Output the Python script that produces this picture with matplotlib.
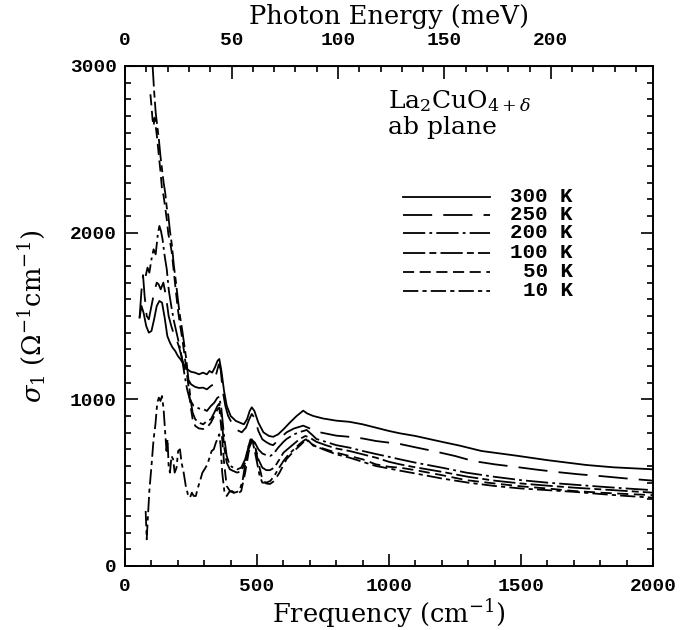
import matplotlib
matplotlib.use("Agg")
import matplotlib.pyplot as plt
from matplotlib.ticker import MultipleLocator
from matplotlib.font_manager import FontProperties

plt.rcParams["lines.scale_dashes"] = False
plt.rcParams["mathtext.fontset"] = "dejavuserif"

# Optical conductivity sigma_1 (Ohm^-1 cm^-1) vs frequency (cm^-1)
nu_300 = [55, 62, 70, 80, 90, 100, 110, 120, 130, 140, 150, 160, 170, 180, 190, 200, 210, 222, 235, 250,
          265, 280, 295, 310, 320, 330, 340, 350, 357, 365, 375, 385, 400, 420, 435, 450, 462, 472, 480, 490,
          505, 524, 545, 561, 580, 600, 624, 650, 675, 690, 713, 750, 800, 850, 900, 950, 1000, 1041, 1100,
          1200, 1268, 1350, 1482, 1600, 1747, 1850, 2000]
s_300 = [1490, 1560, 1520, 1440, 1400, 1410, 1480, 1560, 1590, 1580, 1490, 1380, 1340, 1310, 1290, 1260, 1240,
         1210, 1180, 1165, 1160, 1150, 1160, 1150, 1170, 1160, 1190, 1230, 1242, 1170, 1050, 962, 900, 870, 860,
         850, 880, 930, 952, 930, 860, 802, 780, 775, 790, 820, 860, 900, 932, 915, 900, 885, 872, 865, 850, 830,
         810, 796, 780, 745, 722, 690, 662, 635, 606, 592, 580]

nu_250 = [55, 62, 68, 74, 82, 90, 100, 110, 120, 127, 135, 145, 155, 165, 175, 185, 195, 205, 215, 225, 235,
          250, 265, 280, 295, 310, 325, 335, 345, 355, 362, 370, 380, 390, 410, 425, 442, 458, 470, 480, 490, 505,
          520, 536, 550, 561, 580, 600, 612, 640, 675, 700, 738, 800, 850, 900, 950, 1000, 1041, 1100, 1167, 1250,
          1318, 1400, 1482, 1560, 1646, 1720, 1798, 1900, 2000]
s_250 = [1490, 1650, 1745, 1620, 1500, 1480, 1560, 1640, 1700, 1690, 1660, 1700, 1620, 1500, 1440, 1390, 1360,
         1310, 1250, 1180, 1130, 1090, 1075, 1068, 1070, 1060, 1080, 1090, 1150, 1210, 1180, 1050, 960, 902, 840,
         815, 802, 830, 880, 912, 890, 810, 760, 742, 730, 725, 755, 785, 802, 825, 842, 825, 802, 782, 775, 765,
         750, 740, 732, 712, 690, 660, 630, 610, 594, 578, 562, 550, 540, 525, 512]

nu_200 = [78, 85, 92, 100, 108, 116, 124, 130, 136, 142, 150, 158, 166, 175, 185, 195, 205, 215, 225, 235, 245,
          260, 280, 296, 310, 325, 338, 350, 357, 365, 375, 385, 397, 410, 425, 440, 455, 468, 480, 492, 505, 520,
          535, 549, 561, 580, 600, 612, 640, 665, 688, 710, 725, 760, 800, 850, 900, 950, 1000, 1041, 1100, 1200,
          1293, 1400, 1500, 1600, 1700, 1800, 1900, 2000]
s_200 = [1740, 1790, 1760, 1840, 1900, 1870, 1990, 2040, 2010, 1960, 1860, 1780, 1650, 1560, 1470, 1400, 1330,
         1250, 1150, 1060, 1000, 960, 945, 942, 930, 960, 980, 1010, 1015, 940, 780, 660, 602, 590, 580, 590, 640,
         720, 756, 740, 700, 675, 665, 660, 670, 710, 745, 762, 790, 805, 816, 785, 762, 745, 725, 710, 690, 672,
         655, 640, 620, 590, 560, 535, 515, 500, 488, 476, 465, 455]

nu_100 = [104, 110, 116, 122, 128, 134, 140, 146, 152, 158, 164, 170, 177, 185, 193, 200, 208, 216, 224, 232,
          240, 248, 256, 266, 280, 296, 310, 325, 338, 350, 357, 365, 375, 385, 397, 410, 425, 440, 455, 468, 480,
          492, 505, 520, 535, 549, 565, 585, 600, 630, 660, 683, 700, 725, 760, 800, 850, 900, 950, 1000, 1041,
          1100, 1200, 1300, 1400, 1500, 1600, 1700, 1800, 1900, 2000]
s_100 = [3010, 2850, 2720, 2640, 2560, 2460, 2380, 2300, 2240, 2150, 2100, 2010, 1930, 1800, 1700, 1600, 1500,
         1420, 1330, 1240, 1120, 1000, 920, 880, 860, 850, 870, 880, 920, 960, 975, 900, 720, 620, 580, 570, 560,
         570, 620, 700, 750, 720, 640, 590, 575, 575, 590, 640, 680, 720, 760, 780, 770, 745, 725, 705, 690, 670,
         650, 625, 610, 592, 565, 535, 512, 495, 482, 470, 460, 450, 440]

nu_50 = [96, 100, 104, 108, 112, 116, 122, 128, 134, 140, 146, 152, 158, 164, 170, 177, 185, 193, 200, 208, 216,
         224, 232, 240, 248, 256, 266, 280, 296, 310, 325, 338, 350, 357, 365, 375, 385, 397, 410, 425, 440, 455,
         468, 480, 492, 505, 520, 535, 549, 565, 585, 612, 640, 662, 688, 713, 750, 800, 850, 900, 950, 1000, 1041,
         1100, 1200, 1293, 1400, 1500, 1600, 1700, 1800, 1900, 2000]
s_50 = [2830, 2760, 2680, 2640, 2690, 2640, 2560, 2460, 2370, 2260, 2220, 2150, 2080, 1990, 1950, 1880, 1760,
        1640, 1540, 1450, 1370, 1280, 1180, 1080, 960, 880, 840, 825, 822, 830, 860, 900, 940, 950, 820, 620, 480,
        450, 440, 430, 450, 560, 680, 760, 720, 620, 520, 495, 492, 510, 560, 642, 690, 722, 762, 722, 705, 680,
        660, 640, 610, 595, 590, 575, 545, 515, 495, 478, 465, 450, 440, 432, 425]

nu_10 = [78, 82, 86, 92, 100, 108, 115, 122, 128, 134, 140, 146, 152, 157, 161, 165, 170, 176, 182, 188, 195,
         201, 208, 214, 222, 230, 238, 246, 253, 260, 268, 276, 284, 293, 303, 312, 320, 328, 336, 344, 352, 357,
         362, 368, 376, 385, 395, 405, 415, 425, 435, 445, 455, 465, 475, 482, 490, 500, 510, 520, 535, 550, 565,
         580, 600, 620, 640, 660, 675, 685, 700, 720, 750, 800, 850, 900, 950, 1000, 1041, 1100, 1200, 1300, 1400,
         1500, 1600, 1700, 1800, 1900, 2000]
s_10 = [330, 160, 280, 450, 600, 760, 850, 980, 1010, 990, 1020, 940, 800, 690, 760, 600, 560, 660, 640, 560,
        590, 690, 700, 620, 560, 480, 430, 410, 440, 420, 420, 470, 510, 560, 585, 610, 650, 690, 700, 740, 770,
        790, 720, 560, 450, 420, 445, 450, 440, 445, 460, 510, 610, 700, 760, 750, 700, 620, 540, 500, 500, 510,
        540, 580, 630, 670, 700, 730, 750, 760, 740, 720, 700, 670, 650, 625, 600, 585, 572, 555, 525, 500, 480,
        465, 455, 445, 432, 420, 410]

series = [
    ("300 K", nu_300, s_300, "-"),
    ("250 K", nu_250, s_250, (0, (21, 8))),
    ("200 K", nu_200, s_200, (0, (16, 3, 2, 3))),
    ("100 K", nu_100, s_100, (0, (16, 3, 5, 3))),
    ("50 K", nu_50, s_50, (0, (8, 4))),
    ("10 K", nu_10, s_10, (0, (11, 3, 3, 3))),
]

CM_PER_MEV = 8.0655

fig = plt.figure(figsize=(6.91, 6.30), dpi=100)
ax = fig.add_axes([0.181, 0.1016, 0.764, 0.7937])

for label, nu, s, ls in series:
    ax.plot(nu, s, color="black", lw=1.3, linestyle=ls)

ax.set_xlim(0, 2000)
ax.set_ylim(0, 3000)

tick_fp = FontProperties(family="Liberation Mono", weight="bold", size=14)
label_font = {"family": "DejaVu Serif", "size": 18.5}
note_font = {"family": "DejaVu Serif", "size": 18}

ax.xaxis.set_major_locator(MultipleLocator(500))
ax.xaxis.set_minor_locator(MultipleLocator(100))
ax.yaxis.set_major_locator(MultipleLocator(1000))
ax.yaxis.set_minor_locator(MultipleLocator(100))
ax.tick_params(which="both", direction="in", top=False, right=True, width=1.2)
ax.tick_params(which="major", length=9)
ax.tick_params(which="minor", length=4.5)
ax.tick_params(axis="x", which="major", pad=9)
ax.tick_params(axis="y", which="major", pad=6)
for t in ax.get_xticklabels() + ax.get_yticklabels():
    t.set_fontproperties(tick_fp)
for sp in ax.spines.values():
    sp.set_linewidth(1.4)

ax.set_xlabel(r"Frequency (cm$^{-1}$)", fontdict=label_font, labelpad=1)
ax.set_ylabel(r"$\sigma_1$ ($\Omega^{-1}$cm$^{-1}$)", fontdict=label_font, labelpad=16)

top = ax.secondary_xaxis("top", functions=(lambda x: x / CM_PER_MEV, lambda e: e * CM_PER_MEV))
top.xaxis.set_major_locator(MultipleLocator(50))
top.xaxis.set_minor_locator(MultipleLocator(10))
top.tick_params(which="both", direction="in", width=1.2)
top.tick_params(which="major", length=9, pad=12)
top.tick_params(which="minor", length=4.5)
for t in top.get_xticklabels():
    t.set_fontproperties(tick_fp)
top.set_xlabel("Photon Energy (meV)", fontdict=label_font, labelpad=6)

# Sample and temperature key
ax.text(995, 2790, r"La$_2$CuO$_{4+\delta}$", fontdict=note_font, va="center", ha="left")
ax.text(995, 2630, "ab plane", fontdict=note_font, va="center", ha="left")
key_y = [2214, 2106, 1998, 1878, 1764, 1650]
for (label, nu, s, ls), y in zip(series, key_y):
    ax.plot([1052, 1382], [y, y], color="black", lw=1.3, linestyle=ls)
    ax.text(1696, y, label, ha="right", va="center",
            family="Liberation Mono", weight="bold", size=15)

fig.savefig("out.png", dpi=100)
